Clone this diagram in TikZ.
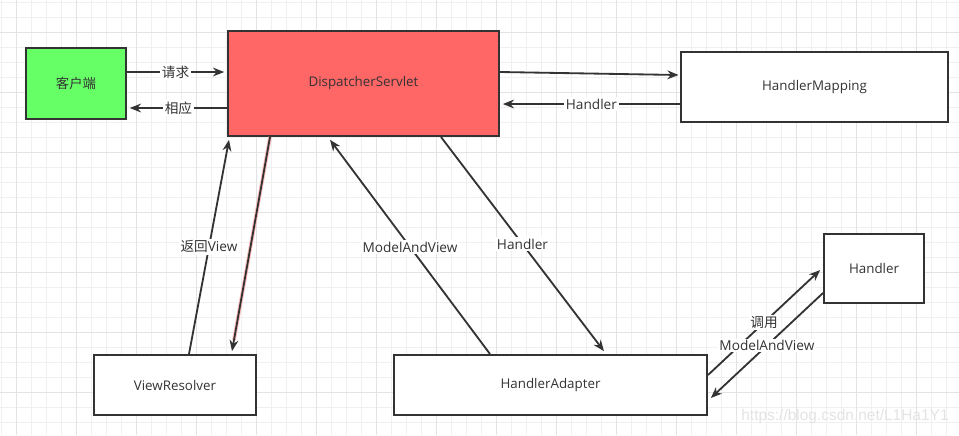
\documentclass[tikz,border=0pt]{standalone}
\usepackage{fontspec}
\setmainfont{Open Sans}
\newfontfamily\cjk{Noto Sans CJK SC}
\usetikzlibrary{arrows.meta,calc}
\definecolor{ink}{HTML}{333333}
\definecolor{gridminor}{HTML}{F0F0F0}
\definecolor{gridmajor}{HTML}{E3E3E3}
\definecolor{clientgreen}{HTML}{66FF66}
\definecolor{servletred}{HTML}{FF6666}
\tikzset{
  box/.style={draw=ink, line width=1.4pt, inner sep=0pt, text=ink, font=\fontsize{9.5}{11}\selectfont},
  flow/.style={draw=ink, line width=1.3pt, -{Stealth[length=0.28cm,width=0.22cm]}},
  tag/.style={fill=white, text=ink, inner sep=1.2pt, font=\fontsize{9.7}{11}\selectfont},
}
\begin{document}
\begin{tikzpicture}[x=0.025cm, y=-0.025cm]
                            \useasboundingbox (0,0) rectangle (959,435);
                            {

                            % Drawing grid
                            \foreach \i in {0,...,63} \draw [gridminor, line width=0.6pt] (1.7+15*\i,0) -- ++(0,435);
                            \foreach \i in {0,...,28} \draw [gridminor, line width=0.6pt] (0,2.5+15*\i) -- ++(959,0);
                            \foreach \i in {0,...,15} \draw [gridmajor, line width=0.6pt] (16.7+60*\i,0) -- ++(0,435);
                            \foreach \i in {0,...,6} \draw [gridmajor, line width=0.6pt] (0,32.5+60*\i) -- ++(959,0);

                            % Drawing boxes
                            \node [box, fill=clientgreen, minimum width=2.5cm, minimum height=1.775cm] (client) at (76,83.5) {\cjk 客户端};
                            \node [box, fill=servletred, minimum width=6.775cm, minimum height=2.625cm] (servlet) at (363.5,83.5) {DispatcherServlet};
                            \node [box, fill=white, minimum width=6.675cm, minimum height=1.75cm] (mapping) at (814.5,87) {HandlerMapping};
                            \node [box, fill=white, minimum width=2.5cm, minimum height=1.725cm] (handler) at (874,268.5) {Handler};
                            \node [box, fill=white, minimum width=4.05cm, minimum height=1.5cm] (resolver) at (175,385) {ViewResolver};
                            \node [box, fill=white, minimum width=7.825cm, minimum height=1.5cm] (adapter) at (550.5,385) {HandlerAdapter};

                            % Drawing client arrows
                            \draw [flow] (client.east |- 0,72) -- ([xshift=-2pt]servlet.west |- 0,72) node [tag, midway] (lblRequest) {\cjk 请求};
                            \draw [flow] (servlet.west |- 0,108) -- ([xshift=2pt]client.east |- 0,108) node [tag, midway] (lblReply) {\cjk 相应};

                            % Drawing mapping arrows
                            \draw [flow] (servlet.east |- 0,72) -- ([xshift=-1pt]mapping.west |- 0,75);
                            \draw [flow] (mapping.west |- 0,104) -- ([xshift=2pt]servlet.east |- 0,104) node [tag, midway] (lblHandlerA) {Handler};

                            % Drawing resolver arrows
                            \draw [flow] (resolver.north -| 189,0) -- ([yshift=-2pt]servlet.south -| 229,0) node [tag, midway] (lblView) {{\cjk 返回}View};
                            \draw [flow, preaction={draw=servletred!45, line width=2.6pt, arrows=-, shorten >=0.28cm}] (servlet.south -| 270,0) -- ([yshift=2pt]resolver.north -| 232,0);

                            % Drawing adapter arrows
                            \draw [flow] (adapter.north -| 490,0) -- ([yshift=-2pt]servlet.south -| 330,0) node [tag, midway] (lblModelA) {ModelAndView};
                            \draw [flow] (servlet.south -| 441,0) -- ([yshift=2pt]adapter.north -| 604,0) node [tag, midway] (lblHandlerB) {Handler};

                            % Drawing handler arrows
                            \draw [flow] (adapter.east |- 0,375) -- ([xshift=-2pt]handler.west |- 0,270) node [tag, midway] (lblCall) {\cjk 调用};
                            \draw [flow] (handler.west |- 0,293) -- ([xshift=2pt]adapter.east |- 0,398) node [tag, midway] (lblModelB) {ModelAndView};

                            % Marking watermark
                            \node [text=black!11, font=\fontsize{11}{13}\selectfont\fontspec{Liberation Sans}] (mark) at (845,416) {https://blog.csdn.net/L1Ha1Y1};
                            }
\end{tikzpicture}
\end{document}
